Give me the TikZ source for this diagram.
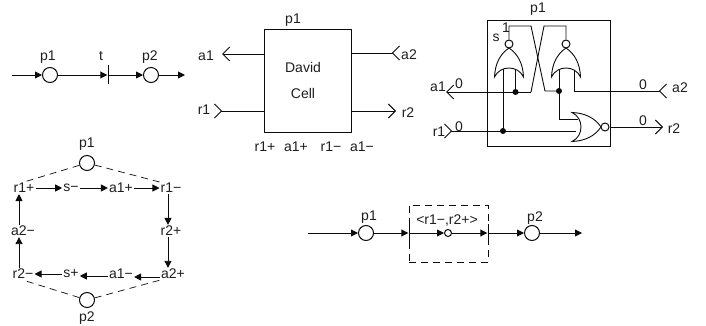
\documentclass[tikz,border=0pt]{standalone}
\usepackage{fontspec}
\setmainfont{Liberation Sans}
\usepackage{tikz}
\usetikzlibrary{arrows.meta,positioning,calc}
\definecolor{ink}{HTML}{0B0B0B}
\definecolor{labelink}{HTML}{1E1E1E}
\tikzset{
  place/.style={draw=ink,line width=1pt,circle,fill=white,minimum size=15pt,inner sep=0pt},
  smallplace/.style={draw=ink,line width=1pt,circle,fill=white,minimum size=7pt,inner sep=0pt},
  bubble/.style={draw=ink,line width=1pt,circle,fill=white,minimum size=8pt,inner sep=0pt},
  tbar/.style={fill=ink,minimum width=1pt,inner sep=0pt,minimum height=19pt},
  dotnode/.style={circle,fill=ink,minimum size=6pt,inner sep=0pt},
  lbl/.style={inner sep=1pt,text=labelink,font=\fontsize{14}{16}\selectfont},
  arr/.style={-{Triangle[length=7pt,width=7pt]},draw=ink,line width=0.9pt},
  dashline/.style={draw=ink,line width=0.7pt,dash pattern=on 7pt off 5pt},
  wire/.style={draw=ink,line width=0.9pt},
  barbin/.style={{Straight Barb[reversed,length=7pt,width=14pt]}-,draw=ink,line width=0.9pt},
  barbout/.style={-{Straight Barb[length=7pt,width=14pt]},draw=ink,line width=0.9pt},
  barbback/.style={-{Straight Barb[reversed,length=7pt,width=14pt]},draw=ink,line width=0.9pt},
  norshape/.pic={
    \draw[wire] (0,0) .. controls (-9,6) and (-14,16) .. (-14.5,29)
      .. controls (-9,17) and (9,17) .. (14.5,29)
      .. controls (14,16) and (9,6) .. (0,0);
  }
}
\begin{document}
\begin{tikzpicture}[x=1pt,y=-1pt]
\useasboundingbox (0,0) rectangle (706,326);
% top left net
\coordinate (nin) at (12,75);
\coordinate (nout) at (185,75);
\node[place] (p1a) at (50,75) {};
\node[tbar] (ta) at (108,75) {};
\node[place] (p2a) at (151,75) {};
\node[lbl] at (48,57) {p1};
\node[lbl] at (101,56) {t};
\node[lbl] at (150,57) {p2};
\draw[arr] (nin) -- (p1a); \draw[arr] (p1a) -- (ta); \draw[arr] (ta) -- (p2a); \draw[arr] (p2a) -- (nout);
% David cell
\node[draw=ink,line width=1pt,minimum width=87pt,minimum height=102pt,inner sep=0pt] (cell) at (307.5,81) {};
\node[lbl] at (293,20) {p1};
\node[lbl] at (303,67) {David};
\node[lbl] at (303,93) {Cell};
\node[lbl] (ca1) at (206,56) {a1};
\node[lbl] (cr1) at (204,110) {r1};
\node[lbl] (ca2) at (409,55) {a2};
\node[lbl] (cr2) at (408,113) {r2};
\coordinate (ca1t) at (222,54);
\coordinate (cr1t) at (214,111);
\coordinate (ca2t) at (400,53);
\coordinate (cr2t) at (396,111);
\draw[barbout] (cell.west |- ca1t) -- (ca1t);
\draw[barbin] (cr1t) -- (cell.west |- cr1t);
\draw[barbback] (cell.east |- ca2t) -- (ca2t);
\draw[barbout] (cell.east |- cr2t) -- (cr2t);
\node[lbl] at (265,147) {r1+};
\node[lbl] at (296,147) {a1+};
\node[lbl] at (331,147) {r1−};
\node[lbl] at (362,147) {a1−};
% gate level
\node[draw=ink,line width=1pt,minimum width=123pt,minimum height=125pt,inner sep=0pt] (box) at (548.5,83.5) {};
\node[lbl] at (538,9) {p1};
\node[lbl] at (496,38) {s};
\node[lbl] at (506,28) {1};
\pic at (509,48) {norshape};
\pic at (566,48) {norshape};
\pic[rotate=-90] at (601,127) {norshape};
\node[bubble] (bl) at (509,44) {};
\node[bubble] (br) at (566,44) {};
\node[bubble] (bn) at (605,127) {};
\node[dotnode] (dl) at (515.5,92) {};
\node[dotnode] (dr) at (559,91) {};
\node[dotnode] (dn) at (503,131) {};
\coordinate (a1t) at (446,92);
\coordinate (r1t) at (444,131);
\coordinate (a2t) at (667,91);
\coordinate (r2t) at (663,127);
\coordinate (xa) at (531,92);
\coordinate (xb) at (545,91);
\coordinate (xc) at (531,26);
\coordinate (xd) at (544,26);
\coordinate (inl) at (503,69);
\coordinate (inr) at (515.5,70);
\coordinate (irl) at (559,70);
\coordinate (irr) at (574,70);
\coordinate (irb) at (574,91);
\coordinate (nand) at (559,119);
\coordinate (nin2) at (578,119);
\coordinate (nin1) at (576,131);
\draw[barbout] (xa) -- (a1t);
\draw[barbin] (r1t) -- (nin1);
\draw[wire] (dn.center) -- (inl);
\draw[wire] (dl.center) -- (inr);
\draw[wire] (xa) -- (xd) -- (br.north |- xd) -- (br.north);
\draw[wire] (bl.north) -- (bl.north |- xc) -- (xc) -- (xb) -- (dr.center);
\draw[wire] (dr.center) -- (irl);
\draw[wire] (dr.center) -- (nand) -- (nin2);
\draw[barbback] (irr) -- (irb) -- (a2t);
\draw[barbout] (bn) -- (r2t);
\node[lbl] (ga1) at (438,87) {a1};
\node[lbl] (gr1) at (439,132) {r1};
\node[lbl] (ga2) at (680,88) {a2};
\node[lbl] (gr2) at (674,129) {r2};
\node[lbl] at (459,84) {0};
\node[lbl] at (459,127) {0};
\node[lbl] at (643,85) {0};
\node[lbl] at (643,121) {0};
% state graph
\node[place] (gp1) at (87,163) {};
\node[place] (gp2) at (87,300) {};
\node[lbl] at (87,144) {p1};
\node[lbl] at (87,318) {p2};
\node[lbl] (r1p) at (24,188) {r1+};
\node[lbl] (sm) at (71,188) {s−};
\node[lbl] (a1p) at (121,188) {a1+};
\node[lbl] (r1m) at (171,188) {r1−};
\node[lbl] (r2p) at (171,231) {r2+};
\node[lbl] (a2p) at (173,274) {a2+};
\node[lbl] (a1m) at (121,274) {a1−};
\node[lbl] (sp) at (71,274) {s+};
\node[lbl] (r2m) at (23,274) {r2−};
\node[lbl] (a2m) at (23,231) {a2−};
\draw[arr] (r1p) -- (sm); \draw[arr] (sm) -- (a1p); \draw[arr] (a1p) -- (r1m);
\draw[arr] ([xshift=-3pt]r1m.south) -- ([xshift=-3pt]r2p.north);
\draw[arr] ([xshift=-3pt]r2p.south) -- ([xshift=-5pt]a2p.north);
\draw[arr] ([yshift=-3pt]a2p.west) -- ([yshift=-3pt]a1m.east);
\draw[arr] ([yshift=-2pt]a1m.west) -- ([yshift=-2pt]sp.east);
\draw[arr] (sp) -- (r2m);
\draw[arr] ([xshift=-4pt]r2m.north) -- ([xshift=-4pt]a2m.south);
\draw[arr] ([xshift=-4pt]a2m.north) -- ([xshift=-5pt]r1p.south);
\draw[dashline] (gp1) -- (r1p.north);
\draw[dashline] (gp1) -- (r1m.north west);
\draw[dashline] (gp2) -- (r2m.south);
\draw[dashline] (gp2) -- (a2p.south west);
% contracted net
\coordinate (min) at (308,233);
\coordinate (mout) at (582,233);
\node[place] (p1c) at (366,233) {};
\node[tbar] (tc1) at (409,233) {};
\node[smallplace] (pc) at (448,233) {};
\node[tbar] (tc2) at (488,233) {};
\node[place] (p2c) at (532,233) {};
\node[lbl] at (369,217) {p1};
\node[lbl] at (447,221) {<r1−,r2+>};
\node[lbl] at (535,218) {p2};
\node[dashline,minimum width=79pt,minimum height=57pt,inner sep=0pt] (group) at (448.5,233.5) {};
\draw[arr] (min) -- (p1c); \draw[arr] (p1c) -- (tc1); \draw[arr] (tc1) -- (pc);
\draw[arr] (pc) -- (tc2); \draw[arr] (tc2) -- (p2c); \draw[arr] (p2c) -- (mout);
\end{tikzpicture}
\end{document}
